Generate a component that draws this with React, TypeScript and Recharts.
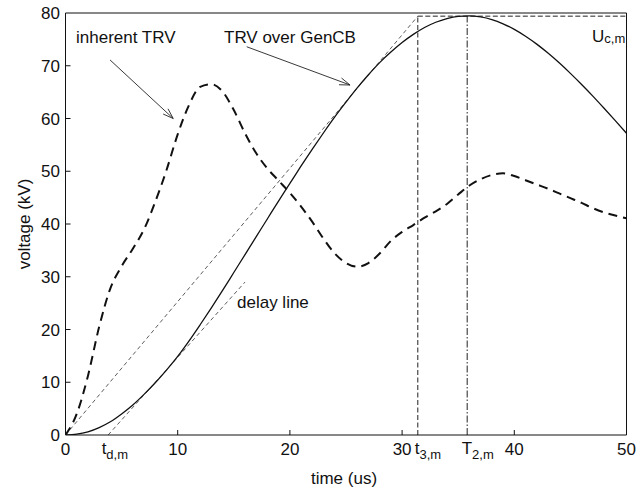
import React from 'react';
import { LineChart, Line, XAxis, YAxis, ReferenceLine, Customized } from 'recharts';

// ---- data ----
const time = [0,1,2,3,4,5,6,7,8,9,10,11,12,13,14,15,16,17,18,19,20,21,22,23,24,25,26,27,28,29,30,31,32,33,34,35,36,37,38,39,40,41,42,43,44,45,46,47,48,49,50];
const inherentTRV = [0,4,11.2,20.5,27.8,32,35.3,39,44.2,50.2,57,62.5,66,66.5,65.1,61.6,57.2,53.4,50.5,48.2,45.9,43.3,40.4,37.2,34.4,32.6,31.9,32.6,34.4,36.8,38.5,39.8,41.2,42.4,43.8,45.6,47.3,48.5,49.3,49.6,49.1,48.3,47.5,46.7,45.8,44.9,44,43,42.2,41.6,41.1];
const genCBTRV = [0,0.15,0.6,1.4,2.5,4.0,5.7,7.7,9.9,12.3,14.9,17.8,20.9,24.1,27.4,30.8,34.2,37.6,41.0,44.4,47.7,51.0,54.2,57.3,60.3,63.1,65.8,68.3,70.6,72.6,74.4,75.95,77.25,78.25,78.95,79.35,79.45,79.25,78.75,77.95,76.9,75.6,74.1,72.4,70.55,68.55,66.45,64.25,61.95,59.6,57.2];

const yTicks = [0,10,20,30,40,50,60,70,80];
const tdm = 3.8;   // t_d,m
const t3m = 31.4;  // t_3,m
const T2m = 35.8;  // T_2,m
const Ucm = 79.4;  // U_c,m
const xTicks = [0, tdm, 10, 20, 30, t3m, T2m, 40, 50];
const xTickMain = ['0','t','10','20','30','t','T','40','50'];
const xTickSub = ['','d,m','','','','3,m','2,m','',''];

const envelopeLine = [{ x: 0, y: 0 }, { x: t3m, y: Ucm }];
const delayLine = [{ x: tdm, y: 0 }, { x: 16, y: 29 }];
const arrowInherent = [{ x: 3.97, y: 71.1 }, { x: 9.6, y: 60.0 }];
const arrowGenCB = [{ x: 16.15, y: 73.6 }, { x: 25.36, y: 66.35 }];

const chartData = time.map((t, i) => ({ t, inherent: inherentTRV[i], gencb: genCBTRV[i] }));

// ---- styling ----
const FONT = '"Liberation Sans", Arial, Helvetica, sans-serif';
const INK = '#111';
const subTickOffset: Record<number, number> = { 1: -6.5, 5: -3, 6: -5.5 };

const XTick = (props: any) => {
  const { x, y, payload } = props;
  const i = xTicks.indexOf(payload.value);
  if (i < 0) return null;
  const main = xTickMain[i];
  const sub = xTickSub[i];
  if (!sub) {
    return (
      <g>
        {payload.value > 0 && payload.value < 50 && (
          <line x1={x} y1={y} x2={x} y2={y - 5} stroke={INK} strokeWidth={1} />
        )}
        <text x={x} y={y + 20} textAnchor="middle" fontSize={17} fontFamily={FONT} fill={INK}>{main}</text>
      </g>
    );
  }
  return (
    <text x={x + (subTickOffset[i] || 0)} y={y + 19} textAnchor="start" fontSize={17} fontFamily={FONT} fill={INK}>
      <tspan>{main}</tspan>
      <tspan fontSize={13} dy={5}>{sub}</tspan>
    </text>
  );
};

const YTick = (props: any) => {
  const { x, y, payload } = props;
  return (
    <g>
      {payload.value > 0 && payload.value < 80 && (
        <line x1={x} y1={y} x2={x + 5} y2={y} stroke={INK} strokeWidth={1} />
      )}
      <text x={x - 5.5} y={y + 6} textAnchor="end" fontSize={17} fontFamily={FONT} fill={INK}>{payload.value}</text>
    </g>
  );
};

const ArrowShape = (p: any) => {
  const { x1, y1, x2, y2 } = p;
  const dx = x2 - x1, dy = y2 - y1;
  const len = Math.hypot(dx, dy) || 1;
  const bx = -dx / len, by = -dy / len;
  const L = 11, a = 0.33;
  const c = Math.cos(a), s = Math.sin(a);
  const pa = { x: x2 + L * (bx * c - by * s), y: y2 + L * (bx * s + by * c) };
  const pb = { x: x2 + L * (bx * c + by * s), y: y2 + L * (-bx * s + by * c) };
  return (
    <g>
      <line x1={x1} y1={y1} x2={x2} y2={y2} stroke="#222" strokeWidth={0.9} />
      <polyline points={`${pa.x},${pa.y} ${x2},${y2} ${pb.x},${pb.y}`} fill="none" stroke="#222" strokeWidth={0.9} />
    </g>
  );
};

const TextLayer = () => (
  <g fontFamily={FONT} fill={INK}>
    <text x={76} y={42.5} fontSize={17}>inherent TRV</text>
    <text x={224} y={42.5} fontSize={17}>TRV over GenCB</text>
    <text x={237} y={308} fontSize={17}>delay line</text>
    <text x={592} y={41.5} fontSize={17}>
      <tspan>U</tspan>
      <tspan fontSize={13} dy={1.5}>c,m</tspan>
    </text>
    <text x={344} y={484} fontSize={17} textAnchor="middle">time (us)</text>
    <text x={30} y={224} fontSize={17} textAnchor="middle" transform="rotate(-90 30 224)">voltage (kV)</text>
  </g>
);

export default function App() {
  return (
    <div style={{ position: 'absolute', left: 0, top: 0, width: 643, height: 494, background: '#fff' }}>
      <LineChart width={643} height={494} data={chartData} margin={{ top: 13, right: 16.5, left: 0, bottom: 0 }}>
        <XAxis
          dataKey="t"
          type="number"
          domain={[0, 50]}
          ticks={xTicks}
          interval={0}
          tickSize={0}
          tickLine={false}
          tickMargin={0}
          tick={<XTick />}
          axisLine={{ stroke: INK, strokeWidth: 1 }}
          height={59}
          allowDataOverflow
        />
        <YAxis
          type="number"
          domain={[0, 80]}
          ticks={yTicks}
          interval={0}
          tickSize={0}
          tickLine={false}
          tickMargin={0}
          tick={<YTick />}
          axisLine={{ stroke: INK, strokeWidth: 1 }}
          width={65.5}
          allowDataOverflow
        />
        {/* frame */}
        <ReferenceLine y={80} stroke={INK} strokeWidth={1} ifOverflow="extendDomain" />
        <ReferenceLine x={50} stroke={INK} strokeWidth={1} ifOverflow="extendDomain" />

        {/* construction lines */}
        <ReferenceLine segment={envelopeLine} stroke="#333" strokeWidth={0.8} strokeDasharray="4 3" ifOverflow="visible" />
        <ReferenceLine segment={delayLine} stroke="#333" strokeWidth={0.8} strokeDasharray="4 3" ifOverflow="visible" />
        <ReferenceLine segment={[{ x: t3m, y: 0 }, { x: t3m, y: Ucm }]} stroke="#222" strokeWidth={1} strokeDasharray="5 2.5" ifOverflow="visible" />
        <ReferenceLine segment={[{ x: T2m, y: 0 }, { x: T2m, y: Ucm }]} stroke="#222" strokeWidth={1} strokeDasharray="7 2 1.5 2" ifOverflow="visible" />
        <ReferenceLine segment={[{ x: t3m, y: Ucm }, { x: 50, y: Ucm }]} stroke="#222" strokeWidth={1} strokeDasharray="5 2.5" ifOverflow="visible" />

        {/* annotation arrows */}
        <ReferenceLine segment={arrowInherent} shape={ArrowShape} ifOverflow="visible" />
        <ReferenceLine segment={arrowGenCB} shape={ArrowShape} ifOverflow="visible" />

        <Line dataKey="inherent" type="monotone" stroke={INK} strokeWidth={2} strokeDasharray="9 6" dot={false} activeDot={false} isAnimationActive={false} />
        <Line dataKey="gencb" type="monotone" stroke={INK} strokeWidth={1.3} dot={false} activeDot={false} isAnimationActive={false} />

        <Customized component={TextLayer} />
      </LineChart>
    </div>
  );
}
